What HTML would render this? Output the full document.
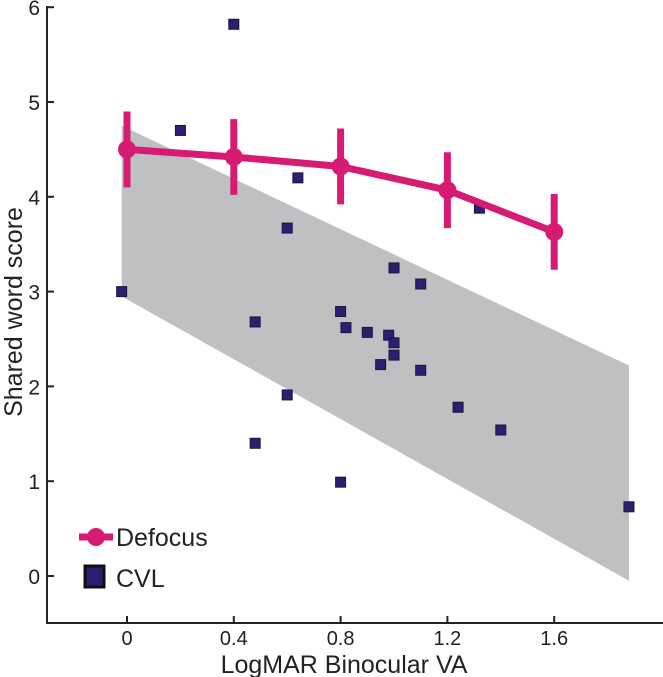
<!DOCTYPE html>
<html><head><meta charset="utf-8"><style>
body{margin:0;background:#fff}
svg{display:block;font-family:"Liberation Sans",Arial,sans-serif}
</style></head><body>
<svg id="c" width="663" height="677" viewBox="0 0 663 677"></svg>
<script>
const xTicks=[0,0.4,0.8,1.2,1.6];
const xTickLabels=["0","0.4","0.8","1.2","1.6"];
const yTicks=[0,1,2,3,4,5,6];
const defocusX=[0,0.4,0.8,1.2,1.6];
const defocusY=[4.5,4.42,4.32,4.07,3.63];
const defocusErr=[0.4,0.4,0.4,0.4,0.4];
const cvlX=[-0.02,0.2,0.4,0.48,0.48,0.6,0.6,0.64,0.8,0.82,0.8,0.9,0.98,1.0,1.0,0.95,1.0,1.1,1.1,1.24,1.32,1.4,1.88];
const cvlY=[3.0,4.7,5.82,2.68,1.4,3.67,1.91,4.2,2.79,2.62,0.99,2.57,2.54,2.46,2.33,2.23,3.25,3.08,2.17,1.78,3.88,1.54,0.73];
const bandX=[-0.02,1.88];
const bandTop=[4.75,2.22];
const bandBottom=[2.95,-0.05];

const sx=v=>127+v*267;
const sy=v=>576-v*94.8;
const NS="http://www.w3.org/2000/svg";
const svg=document.getElementById('c');
function mk(tag,attrs,parent){const e=document.createElementNS(NS,tag);for(const k in attrs)e.setAttribute(k,attrs[k]);(parent||svg).appendChild(e);return e;}

const band=mk('polygon',{points:`${sx(bandX[0])},${sy(bandTop[0])} ${sx(bandX[1])},${sy(bandTop[1])} ${sx(bandX[1])},${sy(bandBottom[1])} ${sx(bandX[0])},${sy(bandBottom[0])}`,fill:'#bfc0c1'});



const ax=mk('g',{stroke:'#222','stroke-width':2});


mk('line',{x1:47,y1:6,x2:47,y2:623},ax);
mk('line',{x1:46,y1:623,x2:663,y2:623},ax);
yTicks.forEach(t=>{
  const l=mk('line',{x1:47,y1:sy(t),x2:54,y2:sy(t),stroke:'#222','stroke-width':2});
  
  
  const tx=mk('text',{x:40,y:sy(t)+8,'text-anchor':'end','font-size':21,fill:'#222'});
  tx.textContent=t;
  
  
});
xTicks.forEach((t,i)=>{
  const l=mk('line',{x1:sx(t),y1:623,x2:sx(t),y2:616,stroke:'#222','stroke-width':2});
  
  
  const tx=mk('text',{x:sx(t),y:645,'text-anchor':'middle','font-size':20,fill:'#222'});
  tx.textContent=xTickLabels[i];
  
  
});
const xt=mk('text',{x:344,y:673,'text-anchor':'middle','font-size':25,fill:'#222'});
xt.textContent='LogMAR Binocular VA';


const yt=mk('text',{x:0,y:0,'text-anchor':'middle','font-size':25,fill:'#222',transform:'translate(22,312) rotate(-90)'});
yt.textContent='Shared word score';



cvlX.forEach((x,i)=>{
  const r=mk('rect',{x:sx(x)-5,y:sy(cvlY[i])-5,width:10,height:10,fill:'#2b1f70',stroke:'#1a1440','stroke-width':1});
  
  
});

const pts=defocusX.map((x,i)=>`${sx(x)},${sy(defocusY[i])}`).join(' ');
const pl=mk('polyline',{points:pts,fill:'none',stroke:'#d81b72','stroke-width':7});


defocusX.forEach((x,i)=>{
  const e=mk('line',{x1:sx(x),x2:sx(x),y1:sy(defocusY[i]+defocusErr[i]),y2:sy(defocusY[i]-defocusErr[i]),stroke:'#d81b72','stroke-width':7});
  
  
  const c=mk('circle',{cx:sx(x),cy:sy(defocusY[i]),r:9,fill:'#d81b72'});
  
  
});

const lg=mk('g',{});


mk('line',{x1:79,y1:537,x2:113,y2:537,stroke:'#d81b72','stroke-width':7},lg);
mk('circle',{cx:96,cy:537,r:9,fill:'#d81b72'},lg);
const l1=mk('text',{x:116,y:546,'font-size':25,fill:'#222'},lg);
l1.textContent='Defocus';


mk('rect',{x:85,y:566,width:19,height:21,fill:'#2b1f70',stroke:'#111','stroke-width':3},lg);
const l2=mk('text',{x:116,y:587,'font-size':25,fill:'#222'},lg);
l2.textContent='CVL';


</script>
</body></html>
